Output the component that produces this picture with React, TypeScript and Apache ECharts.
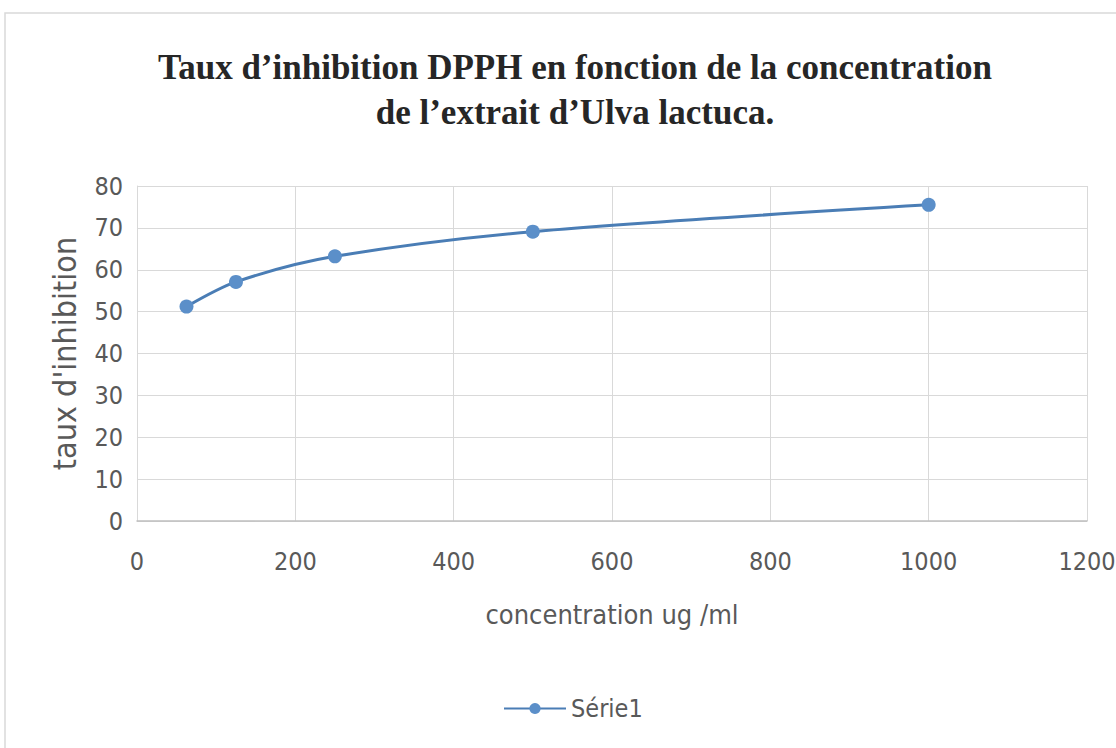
import React, { useEffect, useRef } from "react";
import * as echarts from "echarts";

const concentrations = [62.5, 125, 250, 500, 1000];
const inhibition = [51.2, 57.1, 63.2, 69.1, 75.5];
const xTicks = [0, 200, 400, 600, 800, 1000, 1200];
const yTicks = [0, 10, 20, 30, 40, 50, 60, 70, 80];
const seriesName = "Série1";
const titleText = "Taux d’inhibition DPPH en fonction de la concentration\nde l’extrait d’Ulva lactuca.";
const xName = "concentration ug /ml";
const yName = "taux d'inhibition";

export default function App() {
  const ref = useRef<HTMLDivElement>(null);
  useEffect(() => {
    document.body.style.margin = "0";
    const chart = echarts.init(ref.current!, null, { renderer: "svg" });
    const sans = "'Liberation Sans Narrow', 'DejaVu Sans Condensed', 'Open Sans', sans-serif";
    chart.setOption({
      animation: false,
      backgroundColor: "#ffffff",
      title: {
        text: titleText,
        left: 570,
        textAlign: "center",
        top: 40,
        textStyle: {
          fontFamily: "'Liberation Serif', 'Times New Roman', serif",
          fontWeight: "bold",
          fontSize: 35,
          lineHeight: 45,
          color: "#262626",
        },
      },
      graphic: [
        {
          type: "rect",
          shape: { x: 5, y: 13, width: 1130, height: 760 },
          style: { fill: "none", stroke: "#d9d9d9", lineWidth: 1.5 },
          silent: true,
        },
      ],
      legend: {
        data: [seriesName],
        top: 691,
        left: 498,
        itemWidth: 62,
        itemHeight: 14,
        itemGap: 6,
        textStyle: { fontFamily: sans, fontSize: 25, color: "#595959" },
      },
      grid: { left: 137, right: 29, top: 186, bottom: 227, outerBoundsMode: "none", containLabel: false },
      xAxis: {
        type: "value",
        min: xTicks[0],
        max: xTicks[xTicks.length - 1],
        interval: 200,
        name: xName,
        nameLocation: "middle",
        nameGap: 80,
        nameTextStyle: { fontFamily: sans, fontSize: 27, color: "#595959" },
        axisLine: { show: true, lineStyle: { color: "#bfbfbf", width: 1.5 } },
        axisTick: { show: false },
        axisLabel: {
          fontFamily: sans,
          fontSize: 25,
          color: "#595959",
          margin: 28,
          formatter: (v: number) => String(v),
        },
        splitLine: { show: true, lineStyle: { color: "#d9d9d9", width: 1 } },
      },
      yAxis: {
        type: "value",
        min: yTicks[0],
        max: yTicks[yTicks.length - 1],
        interval: 10,
        name: yName,
        nameLocation: "middle",
        nameGap: 56,
        nameTextStyle: { fontFamily: sans, fontSize: 32, color: "#595959" },
        axisLine: { show: true, lineStyle: { color: "#d9d9d9", width: 1 } },
        axisTick: { show: false },
        axisLabel: {
          fontFamily: sans,
          fontSize: 25,
          color: "#595959",
          margin: 14,
          formatter: (v: number) => String(v),
        },
        splitLine: { show: true, lineStyle: { color: "#d9d9d9", width: 1 } },
      },
      series: [
        {
          name: seriesName,
          type: "line",
          smooth: 0.3,
          data: concentrations.map((c, i) => [c, inhibition[i]]),
          symbol: "circle",
          symbolSize: 14,
          lineStyle: { color: "#4a7db5", width: 3 },
          itemStyle: { color: "#5b8fc9" },
        },
      ],
    });
    return () => chart.dispose();
  }, []);
  return <div ref={ref} style={{ width: 1116, height: 748 }} />;
}
